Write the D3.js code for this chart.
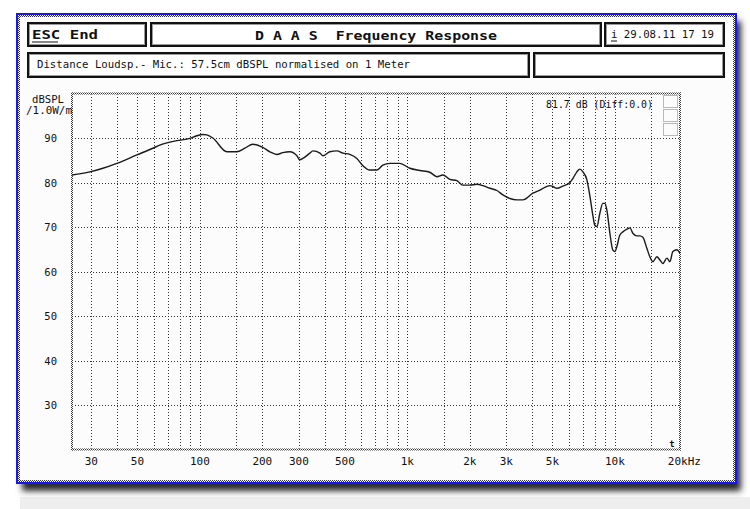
<!DOCTYPE html>
<html>
<head>
<meta charset="utf-8">
<script src="https://cdn.jsdelivr.net/npm/d3@7"></script>
<style>
  html, body { margin: 0; padding: 0; background: #fff; }
  svg { display: block; }
  text { font-family: "DejaVu Sans Mono", "Liberation Mono", monospace; fill: #111; white-space: pre; }
</style>
</head>
<body>
<svg width="750" height="509"></svg>
<script>
"use strict";

const freqs = [24.2, 29.5, 34.1, 39.8, 49.7, 59.4, 64.1, 77.5, 89.5, 96.7, 103.4, 108, 115.5, 134.9,
    150.8, 164.8, 180, 201, 217.5, 235, 251, 271.5, 293.5, 303, 313.5, 339, 350.5, 379, 391.5, 423,
    457.5, 489, 528, 571, 610, 660, 713, 762, 824, 920, 1028, 1149, 1283, 1388, 1483, 1603, 1732,
    1851, 2001, 2162, 2312, 2498, 2700, 2886, 3119, 3371, 3603, 4025, 4350, 4862, 5025, 5254, 5615,
    6069, 6276, 6561, 6782, 7012, 7331, 7577, 7834, 8010, 8191, 8466, 8752, 8948, 9151, 9461, 9781,
    10000, 10224, 10570, 10928, 11424, 11811, 12210, 12764, 13196, 13643, 14262, 14746, 15245,
    15938, 16477, 17034, 17809, 18411, 19035, 19900, 20575];
const spl = [81.7, 82.4, 83.2, 84.3, 86.2, 87.7, 88.4, 89.4, 89.9, 90.5, 90.8, 90.7, 90.0, 86.9,
    86.9, 87.7, 88.6, 87.9, 86.9, 86.3, 86.7, 86.9, 86.0, 85.1, 85.4, 86.6, 87.1, 86.6, 86.0, 86.9,
    87.1, 86.6, 86.3, 85.4, 83.8, 82.8, 82.8, 83.9, 84.3, 84.3, 83.2, 82.7, 82.3, 81.3, 81.7, 80.7,
    80.4, 79.4, 79.4, 79.6, 79.3, 78.7, 78.2, 77.2, 76.4, 76.1, 76.1, 77.6, 78.3, 79.3, 79.1, 78.7,
    79.2, 80.0, 80.9, 82.4, 83.0, 82.4, 80.6, 77.0, 72.6, 70.4, 70.1, 73.1, 75.3, 75.3, 73.8, 68.6,
    64.8, 64.5, 65.6, 68.2, 68.9, 69.5, 69.8, 68.6, 68.0, 68.0, 67.7, 65.2, 63.3, 62.2, 63.3, 62.6,
    61.8, 63.0, 62.2, 64.5, 64.9, 64.1];

const gridFreqs = [30, 40, 50, 60, 70, 80, 90, 100, 150, 200, 300, 400, 500, 600, 700, 800, 900,
    1000, 1500, 2000, 3000, 4000, 5000, 6000, 7000, 8000, 9000, 10000, 15000];
const gridDb = [30, 40, 50, 60, 70, 80, 90];
const tickFreqs = [30, 50, 100, 200, 300, 500, 1000, 2000, 3000, 5000, 10000, 20000];
const tickLabels = ["30", "50", "100", "200", "300", "500", "1k", "2k", "3k", "5k", "10k", "20kHz"];
const dbLabels = ["30", "40", "50", "60", "70", "80", "90"];

const svg = d3.select("svg");

const x = d3.scaleLog().domain([24.2, 20600]).range([72, 680]);
const y = d3.scaleLinear().domain([20, 100]).range([449.5, 93.5]);

const defs = svg.append("defs");
const dither = defs.append("pattern")
    .attr("id", "dither").attr("width", 2).attr("height", 2)
    .attr("patternUnits", "userSpaceOnUse");
dither.append("rect").attr("width", 2).attr("height", 2).attr("fill", "#fff");
dither.append("rect").attr("width", 1).attr("height", 1).attr("fill", "#333");
dither.append("rect").attr("x", 1).attr("y", 1).attr("width", 1).attr("height", 1).attr("fill", "#333");
defs.append("filter").attr("id", "blur").attr("x", "-10%").attr("y", "-10%")
    .attr("width", "120%").attr("height", "120%")
    .append("feGaussianBlur").attr("stdDeviation", 3);

// window: grey strip, shadow, frame
svg.append("rect").attr("x", 20).attr("y", 497).attr("width", 730).attr("height", 12).attr("fill", "#eeeeee");
svg.append("rect").attr("x", 22).attr("y", 21).attr("width", 719).attr("height", 470)
    .attr("fill", "#2a2a2a").attr("filter", "url(#blur)");
svg.append("rect").attr("x", 16).attr("y", 13).attr("width", 721).attr("height", 471).attr("fill", "#1414ff");
svg.append("rect").attr("x", 18).attr("y", 15).attr("width", 717).attr("height", 467).attr("fill", "url(#dither)");
svg.append("rect").attr("x", 20).attr("y", 17).attr("width", 713).attr("height", 463).attr("fill", "#fcfcfc");

// header boxes
const boxes = [[27, 22, 120, 25], [150, 22, 452, 25], [604, 22, 121, 25], [27, 52, 503, 26], [533, 52, 192, 26]];
boxes.forEach(b => {
    svg.append("rect").attr("x", b[0] + 1).attr("y", b[1] + 1).attr("width", b[2] - 2).attr("height", b[3] - 2)
        .attr("fill", "#fff").attr("stroke", "#111").attr("stroke-width", 2);
    svg.append("rect").attr("x", b[0] + 2.5).attr("y", b[1] + 2.5).attr("width", b[2] - 5).attr("height", b[3] - 5)
        .attr("fill", "none").attr("stroke", "#9a9a9a").attr("stroke-width", 1);
});

svg.append("text").attr("x", 32).attr("y", 39).attr("font-size", 12).attr("font-weight", "bold")
    .attr("textLength", 66).attr("lengthAdjust", "spacingAndGlyphs").text("ESC End");
svg.append("line").attr("x1", 32).attr("x2", 58).attr("y1", 42).attr("y2", 42).attr("stroke", "#111").attr("stroke-width", 1);
svg.append("text").attr("x", 255).attr("y", 39.5).attr("font-size", 12.5).attr("font-weight", "bold")
    .attr("textLength", 242).attr("lengthAdjust", "spacingAndGlyphs").text("D A A S  Frequency Response");
svg.append("text").attr("x", 611).attr("y", 38).attr("font-size", 10.5)
    .attr("textLength", 103).attr("lengthAdjust", "spacingAndGlyphs").text("i 29.08.11 17 19");
svg.append("line").attr("x1", 611).attr("x2", 617).attr("y1", 41).attr("y2", 41).attr("stroke", "#111").attr("stroke-width", 1);
svg.append("text").attr("x", 37).attr("y", 68).attr("font-size", 10.7)
    .attr("textLength", 373).attr("lengthAdjust", "spacingAndGlyphs")
    .text("Distance Loudsp.- Mic.: 57.5cm dBSPL normalised on 1 Meter");

// grid
const plot = svg.append("g").attr("shape-rendering", "crispEdges");
plot.selectAll(".vgrid").data(gridFreqs).join("line")
    .attr("x1", d => Math.round(x(d)) + 0.5).attr("x2", d => Math.round(x(d)) + 0.5)
    .attr("y1", y(100)).attr("y2", y(20))
    .attr("stroke", "#333").attr("stroke-width", 1).attr("stroke-dasharray", "1,2");
plot.selectAll(".hgrid").data(gridDb).join("line")
    .attr("x1", x.range()[0]).attr("x2", x.range()[1])
    .attr("y1", d => Math.round(y(d)) + 0.5).attr("y2", d => Math.round(y(d)) + 0.5)
    .attr("stroke", "#333").attr("stroke-width", 1).attr("stroke-dasharray", "1,2");

// dithered plot border
const [x0, x1] = x.range();
const [yb, yt] = y.range();
[[x0 - 1, yt - 1, x1 - x0 + 2, 2], [x0 - 1, yb - 1, x1 - x0 + 2, 2],
 [x0 - 1, yt - 1, 2, yb - yt + 2], [x1 - 1, yt - 1, 2, yb - yt + 2]].forEach(r => {
    svg.append("rect").attr("x", r[0]).attr("y", r[1]).attr("width", r[2]).attr("height", r[3]).attr("fill", "url(#dither)");
});

// little dotted indicator in the top right corner
[[663, 95, 14, 12], [663, 109, 14, 12], [663, 123, 14, 12]].forEach(r => {
    svg.append("rect").attr("x", r[0] + 0.5).attr("y", r[1] + 0.5).attr("width", r[2]).attr("height", r[3])
        .attr("fill", "none").attr("stroke", "#777").attr("stroke-dasharray", "1,1");
});

// response curve
const line = d3.line().x((d, i) => x(freqs[i])).y(d => y(d)).curve(d3.curveMonotoneX);
svg.append("path").datum(spl).attr("d", line)
    .attr("fill", "none").attr("stroke", "#1a1a1a").attr("stroke-width", 1.4);

// axis labels
svg.selectAll(".xlab").data(tickFreqs).join("text")
    .attr("x", (d, i) => i === tickFreqs.length - 1 ? x(d) - 9.5 : x(d))
    .attr("y", 465)
    .attr("text-anchor", (d, i) => i === tickFreqs.length - 1 ? "start" : "middle")
    .attr("font-size", 11)
    .text((d, i) => tickLabels[i]);
svg.selectAll(".ylab").data(gridDb).join("text")
    .attr("x", 57).attr("y", d => y(d) + 4)
    .attr("text-anchor", "end").attr("font-size", 10.5)
    .text((d, i) => dbLabels[i]);
svg.append("text").attr("x", 32).attr("y", 103).attr("font-size", 10)
    .attr("textLength", 32).attr("lengthAdjust", "spacingAndGlyphs").text("dBSPL");
svg.append("text").attr("x", 26).attr("y", 114).attr("font-size", 10)
    .attr("textLength", 46).attr("lengthAdjust", "spacingAndGlyphs").text("/1.0W/m");
svg.append("text").attr("x", 546).attr("y", 108).attr("font-size", 10)
    .attr("textLength", 107).attr("lengthAdjust", "spacingAndGlyphs").text("81.7 dB (Diff:0.0)");
svg.append("text").attr("x", 672).attr("y", 447).attr("font-size", 9).attr("font-weight", "bold")
    .attr("text-anchor", "middle").text("t");
</script>
</body>
</html>
